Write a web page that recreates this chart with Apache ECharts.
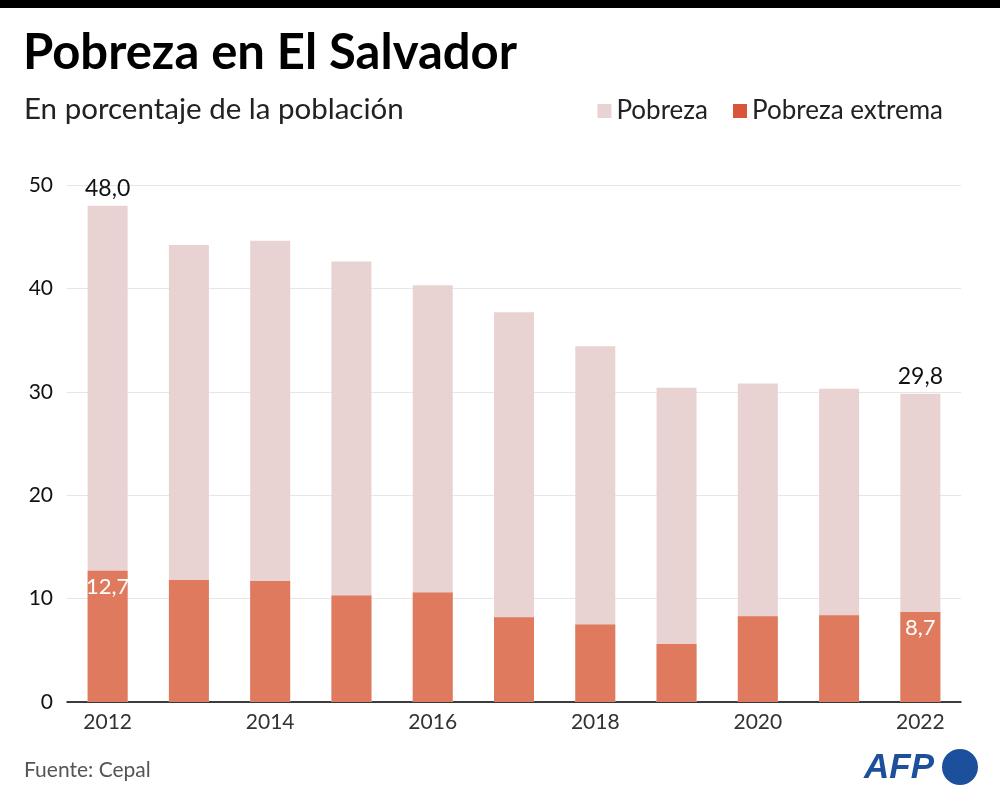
<!DOCTYPE html>
<html><head><meta charset="utf-8">
<script src="https://cdn.jsdelivr.net/npm/echarts@6/dist/echarts.min.js"></script>
<style>html,body{margin:0;padding:0;background:#fff}#c{width:1000px;height:804px}</style>
</head><body><div id="c"></div>
<script>
const years = ['2012','2013','2014','2015','2016','2017','2018','2019','2020','2021','2022'];
const pobreza = [48.0, 44.2, 44.6, 42.6, 40.3, 37.7, 34.4, 30.4, 30.8, 30.3, 29.8];
const extrema = [12.7, 11.8, 11.7, 10.3, 10.6, 8.2, 7.5, 5.6, 8.3, 8.4, 8.7];
const yTicks = [0, 10, 20, 30, 40, 50];
const FONT = 'Lato';
const fmt = v => v.toFixed(1).replace('.', ',');
const last = years.length - 1;

const chart = echarts.init(document.getElementById('c'));
chart.setOption({
  animation: false,
  textStyle: { fontFamily: FONT },
  grid: { left: 67, right: 39, top: 185, bottom: 102 },
  graphic: [
    { type: 'rect', shape: { x: 0, y: 0, width: 1000, height: 8 }, style: { fill: '#000' } },
    { type: 'text', left: 23, top: 29, style: { text: 'Pobreza en El Salvador', font: 'bold 49px ' + FONT, fill: '#000' } },
    { type: 'text', left: 24, top: 94, style: { text: 'En porcentaje de la población', font: '29.5px ' + FONT, fill: '#222' } },
    { type: 'text', left: 24, top: 760, style: { text: 'Fuente: Cepal', font: '21px ' + FONT, fill: '#555' } },
    { type: 'text', left: 864, top: 751, style: { text: 'AFP', font: 'italic bold 35px "Liberation Sans"', fill: '#1c4f9c' } },
    { type: 'circle', shape: { cx: 960, cy: 767, r: 18 }, style: { fill: '#1c4f9c' } }
  ],
  legend: {
    right: 52, top: 93, itemWidth: 14, itemHeight: 14, itemGap: 25,
    textStyle: { fontSize: 26, color: '#222', fontFamily: FONT },
    data: [
      { name: 'Pobreza', icon: 'rect', itemStyle: { color: '#e9d3d2' } },
      { name: 'Pobreza extrema', icon: 'rect', itemStyle: { color: '#d9553a' } }
    ]
  },
  xAxis: {
    type: 'category', data: years,
    axisLine: { lineStyle: { color: '#000', width: 1.5 } },
    axisTick: { show: false },
    axisLabel: { interval: 1, fontSize: 21, color: '#333', margin: 10, fontFamily: FONT }
  },
  yAxis: {
    type: 'value', min: 0, max: 50, interval: 10,
    axisLabel: { fontSize: 21, color: '#111', margin: 14, fontFamily: FONT,
      formatter: v => yTicks.includes(v) ? String(v) : '' },
    splitLine: { lineStyle: { color: '#e6e6e6', width: 1 } },
    axisLine: { show: false }, axisTick: { show: false }
  },
  series: [
    {
      name: 'Pobreza', type: 'bar', barWidth: 40, barGap: '-100%',
      itemStyle: { color: '#e9d3d2' },
      data: pobreza.map((v, i) => ({
        value: v,
        label: (i === 0 || i === last) ? { show: true, position: 'top', distance: 6, formatter: fmt(v), fontSize: 23, color: '#111', fontFamily: FONT } : { show: false }
      }))
    },
    {
      name: 'Pobreza extrema', type: 'bar', barWidth: 40, barGap: '-100%',
      itemStyle: { color: '#e07a5f' },
      data: extrema.map((v, i) => ({
        value: v,
        label: (i === 0 || i === last) ? { show: true, position: 'insideTop', distance: 5, formatter: fmt(v), fontSize: 22, color: '#fff', fontFamily: FONT } : { show: false }
      }))
    }
  ]
});
</script></body></html>
